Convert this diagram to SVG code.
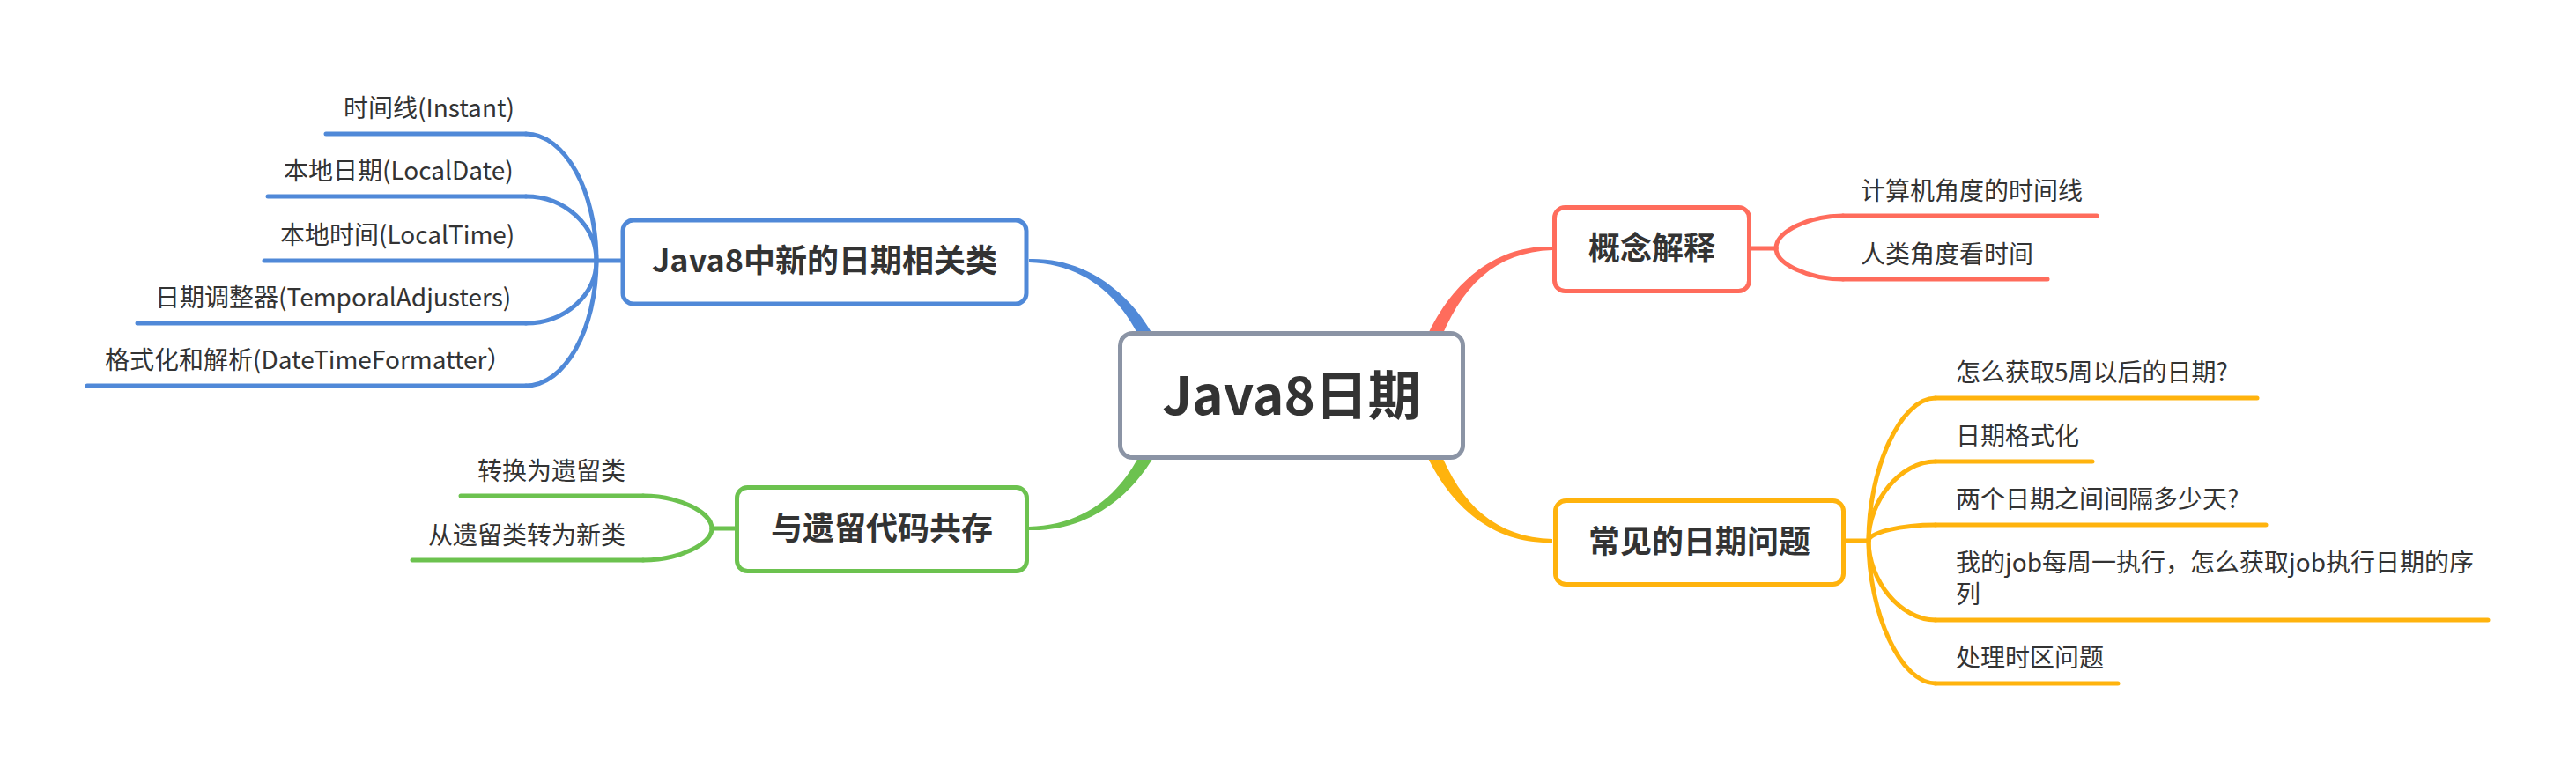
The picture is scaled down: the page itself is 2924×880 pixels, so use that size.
<svg xmlns="http://www.w3.org/2000/svg" width="2924" height="880" viewBox="0 0 2924 880">
<style>
.t{font-family:"Noto Sans CJK SC","Noto Sans",sans-serif;fill:#333333}
.leaf{font-size:28px}
.main{font-size:36px;font-weight:bold;text-anchor:middle}
.root{font-size:60px;font-weight:bold;text-anchor:middle}
.ln{fill:none;stroke-width:5;stroke-linecap:round;stroke-linejoin:round}
.box{fill:#ffffff;stroke-width:5}
.blue{stroke:#5089d8}.red{stroke:#ff6c5c}.green{stroke:#6cc24f}.yellow{stroke:#ffb30d}
</style>
<rect x="0" y="0" width="2924" height="880" fill="#ffffff"/>
<g id="connectors">
  <path d="M1168,294 C1235,292 1287.5,335.5 1315.3,392.7 L1300.7,399.3 C1276.5,340.5 1235,300 1168,298 Z" fill="#5089d8"/>
  <path d="M1168,602 C1235,604 1287.4,562.6 1315.2,508.4 L1300.8,501.6 C1276.6,557.4 1235,596 1168,598 Z" fill="#6cc24f"/>
  <path d="M1762,280 C1698,278 1646.4,319.8 1616.6,389 L1631.4,395 C1657.6,324.2 1698,286 1762,284 Z" fill="#ff6c5c"/>
  <path d="M1762,616 C1698,618 1646.5,578.3 1616.6,511 L1631.4,505 C1657.5,573.7 1698,610 1762,612 Z" fill="#ffb30d"/>
  <g class="ln blue">
    <path d="M677,296 H706"/>
    <path d="M597,152 C641,152 677,216.8 677,296"/>
    <path d="M597,223 C641,223 677,255.9 677,296"/>
    <path d="M597,367 C641,367 677,335 677,296"/>
    <path d="M597,438 C641,438 677,374 677,296"/>
  </g>
  <g class="ln green">
    <path d="M808,600 H836"/>
    <path d="M730,563 C770,563 808,581.5 808,600"/>
    <path d="M730,636 C770,636 808,618 808,600"/>
  </g>
  <g class="ln red">
    <path d="M1988,282 H2016"/>
    <path d="M2016,282 C2016,263.5 2052,245 2092,245"/>
    <path d="M2016,282 C2016,299.5 2052,317 2092,317"/>
  </g>
  <g class="ln yellow">
    <path d="M2094,614 H2121"/>
    <path d="M2121,614 C2121,533 2157,452 2197,452"/>
    <path d="M2121,614 C2121,569 2157,524 2197,524"/>
    <path d="M2121,614 C2121,605 2157,596 2197,596"/>
    <path d="M2121,614 C2121,659 2157,704 2197,704"/>
    <path d="M2121,614 C2121,695 2157,776 2197,776"/>
  </g>
</g>
<g id="root">
  <rect class="box" x="1271.5" y="378.5" width="389" height="141" rx="14" stroke="#8b94a5"/>
  <text class="t root" x="1466" y="471">Java8日期</text>
</g>
<g id="n-java8-classes">
  <rect class="box blue" x="707" y="250" width="458" height="95" rx="12"/>
  <text class="t main" x="936" y="309">Java8中新的日期相关类</text>
</g>
<g id="n-legacy">
  <rect class="box green" x="836.5" y="553.5" width="329" height="95" rx="12"/>
  <text class="t main" x="1001" y="613">与遗留代码共存</text>
</g>
<g id="n-concepts">
  <rect class="box red" x="1764.5" y="235.5" width="221" height="95" rx="12"/>
  <text class="t main" x="1875" y="295">概念解释</text>
</g>
<g id="n-problems">
  <rect class="box yellow" x="1765.5" y="568.5" width="327" height="95" rx="12"/>
  <text class="t main" x="1929" y="628">常见的日期问题</text>
</g>
<g id="leaf-instant">
  <path class="ln blue" d="M370,152 H597"/>
  <text class="t leaf" x="390" y="133">时间线(Instant)</text>
</g>
<g id="leaf-localdate">
  <path class="ln blue" d="M304,223 H597"/>
  <text class="t leaf" x="322" y="204">本地日期(LocalDate)</text>
</g>
<g id="leaf-localtime">
  <path class="ln blue" d="M300,296 H677"/>
  <text class="t leaf" x="318" y="277">本地时间(LocalTime)</text>
</g>
<g id="leaf-adjusters">
  <path class="ln blue" d="M156,367 H597"/>
  <text class="t leaf" x="176" y="348">日期调整器(TemporalAdjusters)</text>
</g>
<g id="leaf-formatter">
  <path class="ln blue" d="M99,438 H597"/>
  <text class="t leaf" x="119" y="419">格式化和解析(DateTimeFormatter）</text>
</g>
<g id="leaf-to-legacy">
  <path class="ln green" d="M523,563 H730"/>
  <text class="t leaf" x="542" y="545">转换为遗留类</text>
</g>
<g id="leaf-from-legacy">
  <path class="ln green" d="M468,636 H730"/>
  <text class="t leaf" x="486" y="618">从遗留类转为新类</text>
</g>
<g id="leaf-computer">
  <path class="ln red" d="M2092,245 H2380"/>
  <text class="t leaf" x="2112" y="227">计算机角度的时间线</text>
</g>
<g id="leaf-human">
  <path class="ln red" d="M2092,317 H2324"/>
  <text class="t leaf" x="2112" y="299">人类角度看时间</text>
</g>
<g id="leaf-q1">
  <path class="ln yellow" d="M2197,452 H2562"/>
  <text class="t leaf" x="2220" y="433">怎么获取5周以后的日期?</text>
</g>
<g id="leaf-q2">
  <path class="ln yellow" d="M2197,524 H2375"/>
  <text class="t leaf" x="2220" y="505">日期格式化</text>
</g>
<g id="leaf-q3">
  <path class="ln yellow" d="M2197,596 H2572"/>
  <text class="t leaf" x="2220" y="577">两个日期之间间隔多少天?</text>
</g>
<g id="leaf-q4">
  <path class="ln yellow" d="M2197,704 H2824"/>
  <text class="t leaf" x="2220" y="649">我的job每周一执行，怎么获取job执行日期的序</text>
  <text class="t leaf" x="2220" y="685">列</text>
</g>
<g id="leaf-q5">
  <path class="ln yellow" d="M2197,776 H2404"/>
  <text class="t leaf" x="2220" y="757">处理时区问题</text>
</g>
</svg>
